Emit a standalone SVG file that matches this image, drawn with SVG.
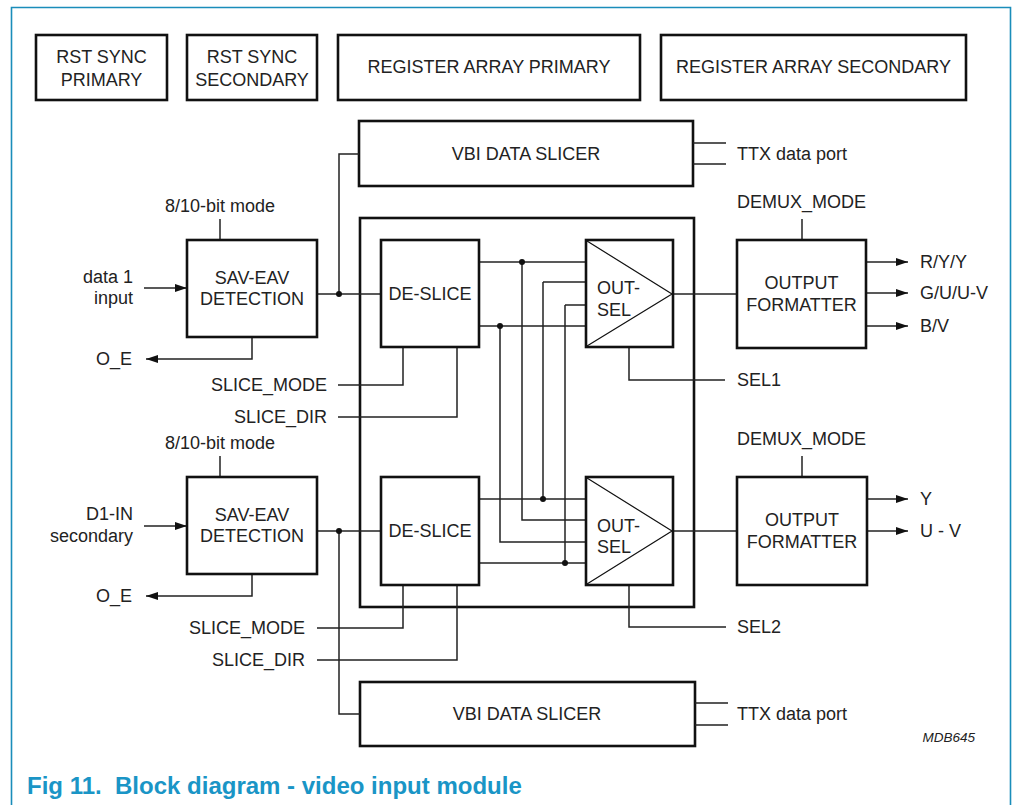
<svg xmlns="http://www.w3.org/2000/svg" width="1013" height="805" viewBox="0 0 1013 805">
<defs>
<style>
.box{fill:#fff;stroke:#111;stroke-width:2.6}
.tri{fill:none;stroke:#111;stroke-width:1.2}
.w{fill:none;stroke:#222;stroke-width:1.5}
.t{font-family:"Liberation Sans",Arial,sans-serif;font-size:18px;fill:#222}
.c{text-anchor:middle}
.e{text-anchor:end}
.dot{fill:#111}
.arr{fill:none;stroke:#222;stroke-width:1.5;marker-end:url(#ah)}
</style>
<marker id="ah" viewBox="0 0 12 8" refX="12" refY="4" markerWidth="12" markerHeight="8" markerUnits="userSpaceOnUse" orient="auto"><path d="M0,0 L12,4 L0,8 z" fill="#111"/></marker>
</defs>
<rect width="1013" height="805" fill="#fff"/>
<path d="M11.5,806 V7.5 H1010.5 V806" fill="none" stroke="#1a8dba" stroke-width="1.6"/>

<g id="rst-sync-primary"><rect class="box" x="36" y="35" width="131" height="65"/><text class="t c" x="101.5" y="63">RST SYNC</text><text class="t c" x="101.5" y="86">PRIMARY</text></g>
<g id="rst-sync-secondary"><rect class="box" x="187" y="35" width="130" height="65"/><text class="t c" x="252" y="63">RST SYNC</text><text class="t c" x="252" y="86">SECONDARY</text></g>
<g id="register-array-primary"><rect class="box" x="338" y="35" width="302" height="65"/><text class="t c" x="489" y="73">REGISTER ARRAY PRIMARY</text></g>
<g id="register-array-secondary"><rect class="box" x="661" y="35" width="305" height="65"/><text class="t c" x="813.5" y="73">REGISTER ARRAY SECONDARY</text></g>

<g id="vbi-top"><rect class="box" x="359" y="121" width="334" height="65"/><text class="t c" x="526" y="160">VBI DATA SLICER</text></g>
<g id="vbi-bottom"><rect class="box" x="360" y="682" width="335" height="64"/><text class="t c" x="527" y="720">VBI DATA SLICER</text></g>

<g id="core"><rect class="box" x="360" y="218" width="334" height="389"/></g>

<g id="connectors">
<path class="arr" d="M144,288 H187"/>
<path class="w" d="M317,294 H381"/>
<path class="w" d="M339,294 V154 H359"/>
<path class="w" d="M220,219 V240"/>
<path class="arr" d="M252,337 V359 H146"/>
<path class="w" d="M338,385 H403 V347"/>
<path class="w" d="M338,417 H457 V347"/>
<path class="w" d="M479,262 H586"/>
<path class="w" d="M543,282 H586"/>
<path class="w" d="M565,305 H586"/>
<path class="w" d="M479,326 H586"/>
<path class="w" d="M673,294 H737"/>
<path class="w" d="M629,347 V380 H725"/>
<path class="w" d="M693,143 H726 M693,164 H726"/>
<path class="w" d="M802,219 V240"/>
<path class="arr" d="M866,262 H908"/>
<path class="arr" d="M866,293 H908"/>
<path class="arr" d="M866,326 H908"/>
<path class="w" d="M500,326 V542 H586"/>
<path class="w" d="M522,262 V520 H586"/>
<path class="w" d="M543,282 V499"/>
<path class="w" d="M565,305 V563"/>
<path class="arr" d="M144,526 H187"/>
<path class="w" d="M317,531 H381"/>
<path class="w" d="M339,531 V714 H360"/>
<path class="w" d="M220,456 V477"/>
<path class="arr" d="M252,574 V596 H146"/>
<path class="w" d="M317,628 H403 V585"/>
<path class="w" d="M317,660 H457 V585"/>
<path class="w" d="M479,499 H586"/>
<path class="w" d="M479,563 H586"/>
<path class="w" d="M673,531 H737"/>
<path class="w" d="M629,585 V627 H726"/>
<path class="w" d="M695,703 H728 M695,725 H728"/>
<path class="w" d="M802,456 V477"/>
<path class="arr" d="M867,499 H908"/>
<path class="arr" d="M867,531 H908"/>
<circle class="dot" cx="339" cy="294" r="3"/>
<circle class="dot" cx="522" cy="262" r="3"/>
<circle class="dot" cx="500" cy="326" r="3"/>
<circle class="dot" cx="339" cy="531" r="3"/>
<circle class="dot" cx="543" cy="499" r="3"/>
<circle class="dot" cx="565" cy="563" r="3"/>
</g>

<g id="sav-eav-1"><rect class="box" x="187" y="240" width="130" height="97"/><text class="t c" x="252" y="284">SAV-EAV</text><text class="t c" x="252" y="305">DETECTION</text></g>
<g id="sav-eav-2"><rect class="box" x="187" y="477" width="130" height="97"/><text class="t c" x="252" y="521">SAV-EAV</text><text class="t c" x="252" y="542">DETECTION</text></g>

<g id="de-slice-1"><rect class="box" x="381" y="240" width="98" height="107"/><text class="t c" x="430" y="300">DE-SLICE</text></g>
<g id="de-slice-2"><rect class="box" x="381" y="477" width="98" height="108"/><text class="t c" x="430" y="537">DE-SLICE</text></g>

<g id="out-sel-1"><rect class="box" x="586" y="240" width="87" height="107"/><path class="tri" d="M587,241 L672,294 L587,346"/><text class="t" x="597" y="294">OUT-</text><text class="t" x="597" y="316">SEL</text></g>
<g id="out-sel-2"><rect class="box" x="586" y="477" width="87" height="108"/><path class="tri" d="M587,478 L672,531 L587,584"/><text class="t" x="597" y="532">OUT-</text><text class="t" x="597" y="553">SEL</text></g>

<g id="output-formatter-1"><rect class="box" x="737" y="240" width="129" height="108"/><text class="t c" x="801.5" y="289">OUTPUT</text><text class="t c" x="801.5" y="311">FORMATTER</text></g>
<g id="output-formatter-2"><rect class="box" x="737" y="477" width="130" height="108"/><text class="t c" x="802" y="526">OUTPUT</text><text class="t c" x="802" y="548">FORMATTER</text></g>

<g id="labels">
<text class="t c" x="220" y="212">8/10-bit mode</text>
<text class="t e" x="133" y="283">data 1</text>
<text class="t e" x="133" y="304">input</text>
<text class="t e" x="132" y="365">O_E</text>
<text class="t e" x="327" y="391">SLICE_MODE</text>
<text class="t e" x="327" y="423">SLICE_DIR</text>
<text class="t c" x="220" y="449">8/10-bit mode</text>
<text class="t e" x="133" y="520">D1-IN</text>
<text class="t e" x="133" y="542">secondary</text>
<text class="t e" x="132" y="602">O_E</text>
<text class="t e" x="305" y="634">SLICE_MODE</text>
<text class="t e" x="305" y="666">SLICE_DIR</text>
<text class="t" x="737" y="160">TTX data port</text>
<text class="t" x="737" y="208">DEMUX_MODE</text>
<text class="t" x="920" y="268">R/Y/Y</text>
<text class="t" x="920" y="299">G/U/U-V</text>
<text class="t" x="920" y="332">B/V</text>
<text class="t" x="737" y="386">SEL1</text>
<text class="t" x="737" y="445">DEMUX_MODE</text>
<text class="t" x="920" y="505">Y</text>
<text class="t" x="920" y="537">U - V</text>
<text class="t" x="737" y="633">SEL2</text>
<text class="t" x="737" y="720">TTX data port</text>
<text x="975" y="742" text-anchor="end" font-family="Liberation Sans,Arial,sans-serif" font-size="13.5" font-style="italic" fill="#222">MDB645</text>
<text x="27" y="794" font-family="Liberation Sans,Arial,sans-serif" font-size="24" font-weight="bold" fill="#1a95c6">Fig 11.&#160; Block diagram - video input module</text>
</g>
</svg>
